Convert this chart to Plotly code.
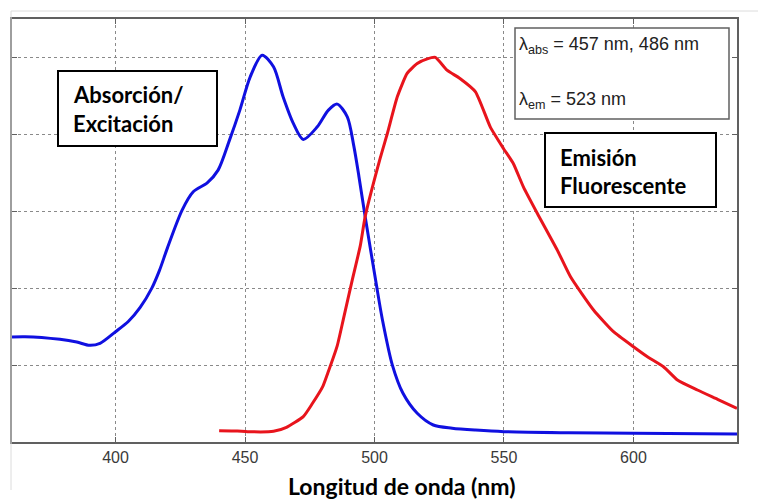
import plotly.graph_objects as go

# Absorption / excitation spectrum (blue)
abs_nm = [360, 365, 378.5, 385, 390, 394, 400, 405, 409.5, 414, 417, 420, 425.7, 430, 435.4,
          439.6, 444, 448, 452, 456.6, 461, 464.7, 468.6, 472.5, 477.9, 482.2, 485.6,
          489.5, 492, 494, 496.4, 500.7, 503, 506.9, 511, 516.5, 522.7, 530, 539, 550,
          575, 600, 640]
abs_val = [1.365, 1.369, 1.335, 1.30, 1.257, 1.283, 1.434, 1.57, 1.75, 2.001, 2.235, 2.521,
           3.015, 3.253, 3.37, 3.535, 3.925, 4.315, 4.748, 5.03, 4.878, 4.488, 4.146,
           3.934, 4.098, 4.315, 4.393, 4.228, 3.85, 3.45, 2.93, 2.05, 1.60, 1.0, 0.633,
           0.373, 0.221, 0.18, 0.155, 0.134, 0.12, 0.113, 0.104]

# Fluorescence emission spectrum (red)
em_nm = [440, 447, 451, 461, 466, 472.5, 476, 480, 482, 485.6, 488, 491.4, 494.5, 496.4,
         502.2, 505, 508.8, 512.6, 516.5, 520.4, 523.5, 528, 533, 539, 544.7, 549.8,
         553.6, 557.5, 562.9, 570.6, 575.7, 584.6, 592.3, 600, 605.4, 611.6, 617,
         624.7, 632.5, 640]
em_val = [0.147, 0.143, 0.134, 0.139, 0.191, 0.33, 0.50, 0.72, 0.90, 1.25, 1.60, 2.105, 2.55,
          2.93, 3.69, 4.016, 4.488, 4.792, 4.922, 4.982, 5.0, 4.835, 4.727, 4.553, 4.098,
          3.817, 3.622, 3.318, 2.972, 2.495, 2.148, 1.716, 1.434, 1.239, 1.109, 0.979,
          0.806, 0.676, 0.555, 0.438]

x_ticks = [400, 450, 500, 550, 600]
y_ticks = [0, 1, 2, 3, 4, 5]

x_title = "Longitud de onda (nm)"
abs_label = ["Absorción/", "Excitación"]
em_label = ["Emisión", "Fluorescente"]
info_lines = ["λ<sub>abs</sub> = 457 nm, 486 nm", "λ<sub>em</sub> = 523 nm"]

fig = go.Figure()
fig.add_trace(go.Scatter(x=abs_nm, y=abs_val, mode="lines",
                         line=dict(color="#1010e0", width=3, shape="spline", smoothing=0.8),
                         hoverinfo="skip"))
fig.add_trace(go.Scatter(x=em_nm, y=em_val, mode="lines",
                         line=dict(color="#e8141c", width=3, shape="spline", smoothing=0.5),
                         hoverinfo="skip"))

axis_common = dict(showgrid=True, gridcolor="#8a8a8a", griddash="dot", gridwidth=1,
                   showline=True, linecolor="#606060", linewidth=1.5, mirror="ticks",
                   ticks="inside", ticklen=5, tickcolor="#606060", zeroline=False)

fig.update_xaxes(range=[360, 640], tickvals=x_ticks, ticktext=[str(v) for v in x_ticks],
                 tickfont=dict(family="Liberation Sans, Arial", size=16, color="#3a3a3a"),
                 **axis_common)
fig.update_yaxes(range=[0, 5.5], tickvals=y_ticks, showticklabels=False, **axis_common)

W, H = 758, 502
L, R, T, B = 12, 21, 19, 60
pw, ph = W - L - R, H - T - B


def px(x):
    return (x - L) / pw


def py(y):
    return (H - B - y) / ph


shapes = []
# faint screenshot border lines
shapes.append(dict(type="line", xref="paper", yref="paper", x0=px(11), x1=px(758),
                   y0=py(11), y1=py(11), line=dict(color="#dcdcdc", width=1)))
shapes.append(dict(type="line", xref="paper", yref="paper", x0=px(11), x1=px(11),
                   y0=py(11), y1=py(490), line=dict(color="#dcdcdc", width=1)))
# text boxes
shapes.append(dict(type="rect", xref="paper", yref="paper", x0=px(58), x1=px(217),
                   y0=py(146), y1=py(71), line=dict(color="black", width=2),
                   fillcolor="white"))
shapes.append(dict(type="rect", xref="paper", yref="paper", x0=px(545), x1=px(716),
                   y0=py(207), y1=py(133), line=dict(color="black", width=2),
                   fillcolor="white"))
shapes.append(dict(type="rect", xref="paper", yref="paper", x0=px(515), x1=px(729),
                   y0=py(119), y1=py(28), line=dict(color="#606060", width=1.5),
                   fillcolor="white"))

bold_font = dict(family="Lato, Open Sans, sans-serif", size=22, color="black")
ann = []
ann.append(dict(xref="paper", yref="paper", x=px(71), y=py(94), text="<b>" + abs_label[0] + "</b>",
                showarrow=False, xanchor="left", yanchor="middle", font=bold_font))
ann.append(dict(xref="paper", yref="paper", x=px(71), y=py(123), text="<b>" + abs_label[1] + "</b>",
                showarrow=False, xanchor="left", yanchor="middle", font=bold_font))
ann.append(dict(xref="paper", yref="paper", x=px(558), y=py(157), text="<b>" + em_label[0] + "</b>",
                showarrow=False, xanchor="left", yanchor="middle", font=bold_font))
ann.append(dict(xref="paper", yref="paper", x=px(558), y=py(185), text="<b>" + em_label[1] + "</b>",
                showarrow=False, xanchor="left", yanchor="middle", font=bold_font))
info_font = dict(family="Liberation Sans, Arial", size=18, color="#222222")
ann.append(dict(xref="paper", yref="paper", x=px(517), y=py(46), text=info_lines[0],
                showarrow=False, xanchor="left", yanchor="middle", font=info_font))
ann.append(dict(xref="paper", yref="paper", x=px(517), y=py(100), text=info_lines[1],
                showarrow=False, xanchor="left", yanchor="middle", font=info_font))
ann.append(dict(xref="paper", yref="paper", x=px(402), y=py(486), text="<b>" + x_title + "</b>",
                showarrow=False, xanchor="center", yanchor="middle",
                font=dict(family="Lato, Open Sans, sans-serif", size=23, color="black")))

fig.update_layout(width=W, height=H, margin=dict(l=L, r=R, t=T, b=B),
                  paper_bgcolor="white", plot_bgcolor="white", showlegend=False,
                  shapes=shapes, annotations=ann)

fig.write_html("out.html", config={"displayModeBar": False},
               post_script="document.body.style.margin='0';document.body.style.overflow='hidden';")
